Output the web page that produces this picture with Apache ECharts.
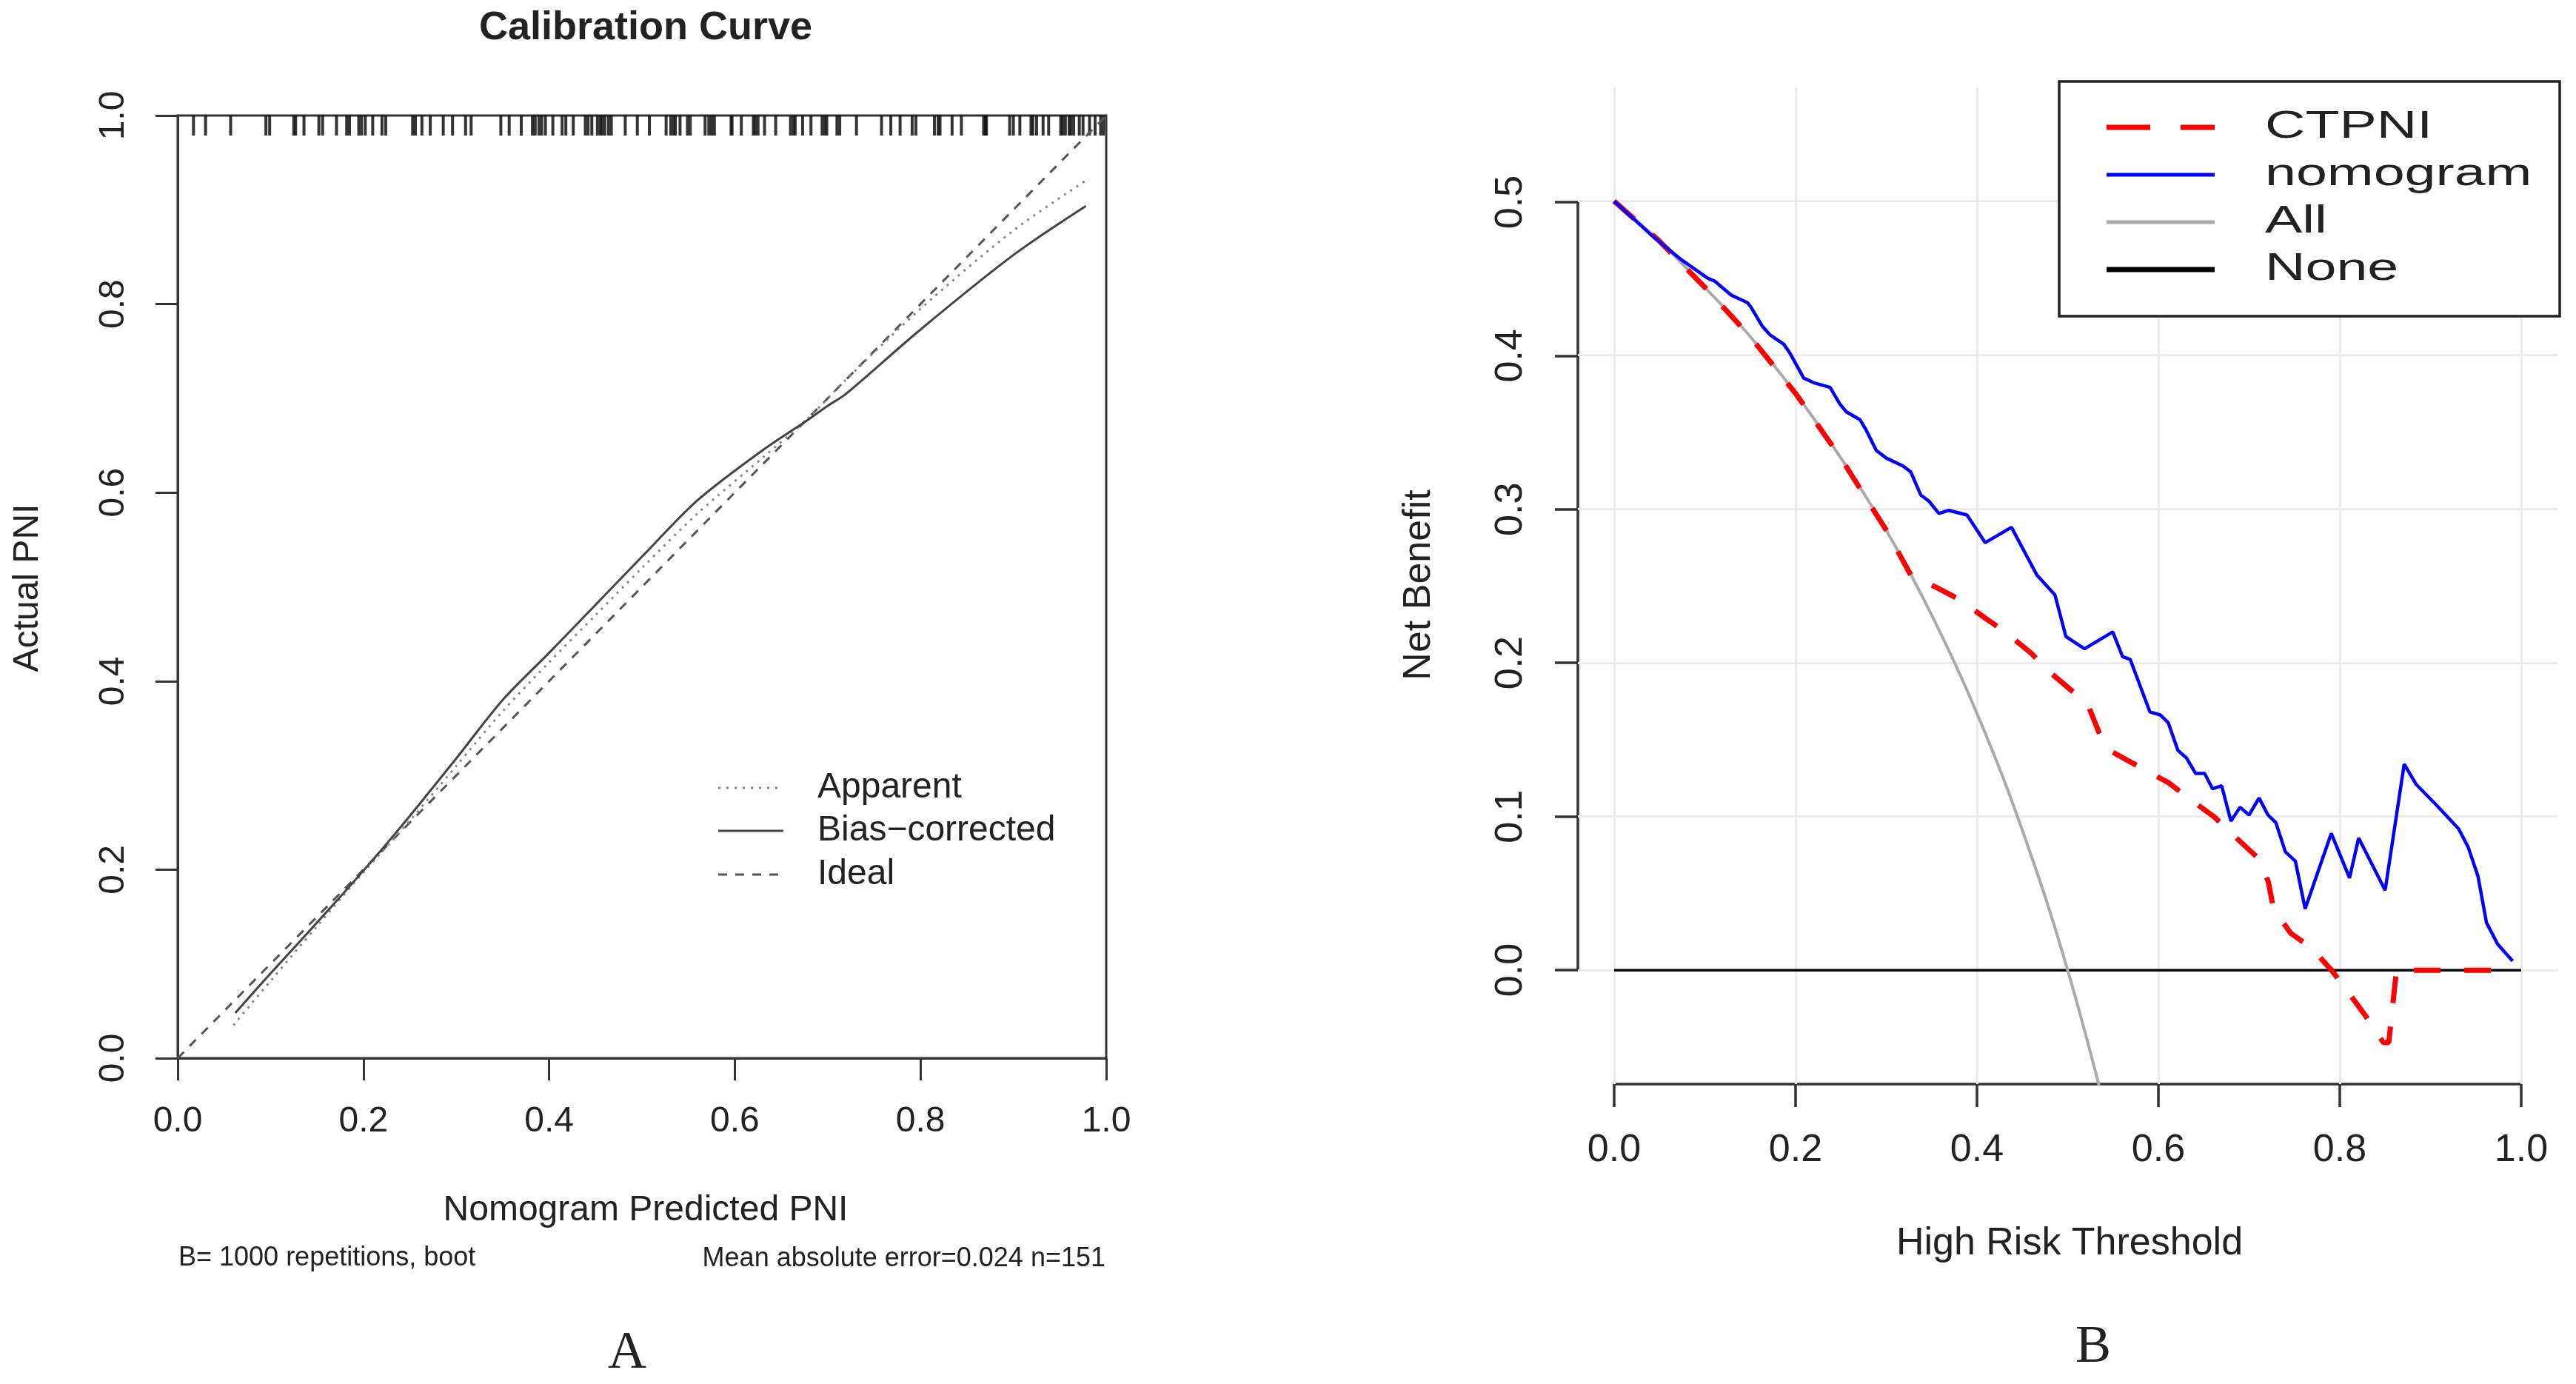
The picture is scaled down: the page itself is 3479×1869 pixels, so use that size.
<!DOCTYPE html>
<html style="height: 100%">
<head>
<meta charset="utf-8">
<script src="https://cdn.jsdelivr.net/npm/echarts@6/dist/echarts.min.js"></script>
</head>
<body style="height: 100%; margin: 0; background: #fff">
<div id="container" style="width: 3479px; height: 1869px;"></div>
<script type="text/javascript">
// ---- panel A : calibration curve ----
var rugX = [0.017, 0.030, 0.057, 0.095, 0.099, 0.125, 0.127, 0.136, 0.152, 0.156, 0.171, 0.182, 0.185,
  0.195, 0.198, 0.202, 0.210, 0.220, 0.224, 0.253, 0.256, 0.263, 0.272, 0.286, 0.296, 0.310, 0.316,
  0.348, 0.357, 0.370, 0.382, 0.385, 0.389, 0.392, 0.396, 0.404, 0.414, 0.418, 0.426, 0.439, 0.442,
  0.446, 0.452, 0.455, 0.457, 0.460, 0.464, 0.467, 0.482, 0.495, 0.508, 0.526, 0.531, 0.534, 0.536,
  0.541, 0.549, 0.552, 0.568, 0.572, 0.575, 0.578, 0.596, 0.597, 0.607, 0.620, 0.622, 0.625, 0.632,
  0.644, 0.660, 0.663, 0.665, 0.673, 0.682, 0.694, 0.697, 0.699, 0.710, 0.713, 0.731, 0.758, 0.768,
  0.778, 0.791, 0.795, 0.815, 0.819, 0.821, 0.834, 0.844, 0.868, 0.870, 0.871, 0.896, 0.900, 0.907,
  0.919, 0.921, 0.925, 0.932, 0.938, 0.951, 0.953, 0.956, 0.960, 0.962, 0.965, 0.971, 0.975, 0.982,
  0.988, 0.994, 0.997];
var idealPts = [[0, 0], [1, 1]];
var apparentPts = [[0.06, 0.035], [0.10, 0.082], [0.15, 0.140], [0.20, 0.197], [0.25, 0.252],
  [0.30, 0.310], [0.35, 0.368], [0.40, 0.420], [0.45, 0.470], [0.50, 0.520], [0.56, 0.578],
  [0.63, 0.637], [0.68, 0.680], [0.72, 0.720], [0.80, 0.795], [0.90, 0.878], [0.978, 0.931]];
var biasPts = [[0.062, 0.048], [0.10, 0.090], [0.128, 0.120], [0.184, 0.181], [0.24, 0.245],
  [0.30, 0.318], [0.35, 0.380], [0.40, 0.430], [0.45, 0.481], [0.50, 0.532], [0.56, 0.592],
  [0.63, 0.645], [0.68, 0.678], [0.70, 0.692], [0.72, 0.705], [0.80, 0.773], [0.90, 0.852],
  [0.978, 0.904]];

// ---- panel B : decision curve ----
var gridX = [0, 0.2, 0.4, 0.6, 0.8, 1.0];
var gridY = [0, 0.1, 0.2, 0.3, 0.4, 0.5];
var nonePts = [[0, 0], [1, 0]];
var allPts = [[0, 0.5], [0.05, 0.474], [0.10, 0.444], [0.15, 0.412], [0.20, 0.375], [0.25, 0.333],
  [0.30, 0.286], [0.35, 0.231], [0.40, 0.167], [0.45, 0.091], [0.50, 0.0], [0.55, -0.111]];
var ctpniPts = [[0, 0.5], [0.05, 0.474], [0.10, 0.444], [0.15, 0.412], [0.20, 0.375], [0.25, 0.333],
  [0.30, 0.286], [0.327, 0.257], [0.355, 0.249], [0.381, 0.241], [0.409, 0.229], [0.431, 0.220],
  [0.460, 0.206], [0.478, 0.195], [0.506, 0.181], [0.524, 0.170], [0.537, 0.151], [0.546, 0.143],
  [0.589, 0.129], [0.611, 0.122], [0.640, 0.109], [0.661, 0.100], [0.686, 0.086], [0.708, 0.074],
  [0.721, 0.058], [0.727, 0.040], [0.746, 0.024], [0.768, 0.015], [0.791, 0.0], [0.809, -0.014],
  [0.830, -0.031], [0.848, -0.047], [0.854, -0.047], [0.8625, 0], [0.99, 0]];
var nomoPts = [[0, 0.5], [0.041, 0.478], [0.074, 0.462], [0.103, 0.450], [0.111, 0.448], [0.129, 0.439],
  [0.147, 0.434], [0.151, 0.431], [0.163, 0.419], [0.172, 0.413], [0.187, 0.407], [0.194, 0.401],
  [0.209, 0.385], [0.220, 0.382], [0.238, 0.379], [0.249, 0.368], [0.256, 0.363], [0.271, 0.358],
  [0.278, 0.351], [0.289, 0.338], [0.300, 0.333], [0.318, 0.328], [0.327, 0.324], [0.338, 0.309],
  [0.347, 0.305], [0.358, 0.297], [0.369, 0.299], [0.389, 0.296], [0.409, 0.278], [0.438, 0.288],
  [0.466, 0.257], [0.486, 0.244], [0.498, 0.217], [0.5185, 0.209], [0.5497, 0.220], [0.5604, 0.204],
  [0.569, 0.202], [0.5906, 0.168], [0.602, 0.166], [0.6108, 0.161], [0.6215, 0.143], [0.631, 0.138],
  [0.641, 0.128], [0.651, 0.128], [0.6597, 0.118], [0.6697, 0.120], [0.680, 0.097], [0.690, 0.106],
  [0.700, 0.101], [0.711, 0.112], [0.7208, 0.101], [0.7295, 0.096], [0.740, 0.077], [0.751, 0.071],
  [0.7618, 0.040], [0.7906, 0.089], [0.8107, 0.060], [0.8208, 0.086], [0.850, 0.052], [0.871, 0.134],
  [0.884, 0.121], [0.9056, 0.108], [0.931, 0.092], [0.9416, 0.080], [0.9524, 0.061], [0.9617, 0.031],
  [0.974, 0.017], [0.9905, 0.006]];

var FONT = '"Liberation Sans", Arial, sans-serif';
var INK = '#222';
var AX = '#333';
function fmt1(v) { return v.toFixed(1); }

var chart = echarts.init(document.getElementById('container'), null, {renderer: 'canvas'});

function txt(x, y, text, size, opts) {
    opts = opts || {};
    return {
        type: 'text', x: x, y: y, rotation: opts.rot || 0, scaleX: opts.sx || 1, silent: true, z: 50,
        style: {
            text: text, fill: INK,
            font: (opts.bold ? 'bold ' : '') + size + 'px ' + (opts.family || FONT),
            textAlign: opts.align || 'center', textVerticalAlign: 'middle',
            align: opts.align || 'center', verticalAlign: 'middle'
        }
    };
}
function seg(x1, y1, x2, y2, color, w, dash) {
    return {
        type: 'line', silent: true, z: 50,
        shape: {x1: x1, y1: y1, x2: x2, y2: y2},
        style: {stroke: color, lineWidth: w, lineDash: dash || null}
    };
}

var graphics = [
    txt(872, 38, 'Calibration Curve', 54, {bold: true}),
    txt(38, 794, 'Actual PNI', 48, {rot: Math.PI / 2}),
    txt(872, 1635, 'Nomogram Predicted PNI', 48),
    txt(241, 1699, 'B= 1000 repetitions, boot', 36, {align: 'left'}),
    txt(1493, 1700, 'Mean absolute error=0.024 n=151', 36, {align: 'right'}),
    seg(970, 1064, 1058, 1064, '#888', 3, [3, 8]),
    seg(970, 1122, 1058, 1122, '#444', 3),
    seg(970, 1181, 1058, 1181, '#555', 3, [12, 11]),
    txt(1104, 1064, 'Apparent', 48, {align: 'left'}),
    txt(1104, 1122, 'Bias\u2212corrected', 48, {align: 'left'}),
    txt(1104, 1181, 'Ideal', 48, {align: 'left'}),
    txt(847, 1828, 'A', 72, {family: '"Liberation Serif", "Times New Roman", serif'}),
    txt(1917, 790, 'Net Benefit', 52, {rot: Math.PI / 2}),
    txt(2795, 1680, 'High Risk Threshold', 52),
    txt(2827, 1820, 'B', 72, {family: '"Liberation Serif", "Times New Roman", serif'}),
    {
        type: 'rect', silent: true, z: 49,
        shape: {x: 2781, y: 110, width: 676, height: 317},
        style: {fill: '#fff', stroke: '#222', lineWidth: 3.5}
    },
    seg(2845, 172, 2991, 172, '#ff0000', 7, [59, 41]),
    seg(2845, 236, 2991, 236, '#0000ff', 5),
    seg(2845, 300, 2991, 300, '#aaaaaa', 5),
    seg(2845, 364, 2991, 364, '#000000', 7),
    txt(3059, 172, 'CTPNI', 52, {align: 'left', sx: 1.45}),
    txt(3059, 236, 'nomogram', 52, {align: 'left', sx: 1.45}),
    txt(3059, 300, 'All', 52, {align: 'left', sx: 1.45}),
    txt(3059, 364, 'None', 52, {align: 'left', sx: 1.45})
];

var option = {
    animation: false,
    backgroundColor: '#fff',
    grid: [
        {left: 240, top: 156, width: 1254, height: 1273, show: true,
            borderColor: AX, borderWidth: 3, backgroundColor: 'transparent'},
        {left: 2131, top: 118, width: 1323, height: 1346},
        {left: 2180, top: 273, width: 1225, height: 1037}
    ],
    xAxis: [
        {
            gridIndex: 0, type: 'value', min: 0, max: 1, interval: 0.2,
            axisLine: {show: true, onZero: false, lineStyle: {color: AX, width: 3}},
            axisTick: {show: true, length: 30, lineStyle: {color: AX, width: 3}},
            axisLabel: {formatter: fmt1, fontSize: 48, fontFamily: FONT, color: INK, margin: 62},
            splitLine: {show: false}
        },
        {gridIndex: 1, type: 'value', min: -0.04, max: 1.04, show: false},
        {
            gridIndex: 2, type: 'value', min: 0, max: 1, interval: 0.2, offset: 154,
            axisLine: {show: true, onZero: false, lineStyle: {color: AX, width: 3.5}},
            axisTick: {show: true, length: 31, lineStyle: {color: AX, width: 3.5}},
            axisLabel: {formatter: fmt1, fontSize: 52, fontFamily: FONT, color: INK, margin: 64},
            splitLine: {show: false}
        }
    ],
    yAxis: [
        {
            gridIndex: 0, type: 'value', min: 0, max: 1, interval: 0.2,
            axisLine: {show: true, onZero: false, lineStyle: {color: AX, width: 3}},
            axisTick: {show: true, length: 30, lineStyle: {color: AX, width: 3}},
            axisLabel: {formatter: fmt1, fontSize: 48, fontFamily: FONT, color: INK, margin: 62, rotate: 90},
            splitLine: {show: false}
        },
        {gridIndex: 1, type: 'value', min: -0.074, max: 0.574, show: false},
        {
            gridIndex: 2, type: 'value', min: 0, max: 0.5, interval: 0.1, offset: 49,
            axisLine: {show: true, onZero: false, lineStyle: {color: AX, width: 3.5}},
            axisTick: {show: true, length: 31, lineStyle: {color: AX, width: 3.5}},
            axisLabel: {formatter: fmt1, fontSize: 52, fontFamily: FONT, color: INK, margin: 64, rotate: 90},
            splitLine: {show: false}
        }
    ],
    series: [
        {
            name: 'rug', type: 'scatter', xAxisIndex: 0, yAxisIndex: 0, silent: true,
            data: rugX.map(function (v) { return [v, 1]; }),
            symbol: 'rect', symbolSize: [4, 27], symbolOffset: [0, 13.5],
            itemStyle: {color: '#111', opacity: 0.85}, z: 2
        },
        {
            name: 'Ideal', type: 'line', xAxisIndex: 0, yAxisIndex: 0, data: idealPts,
            showSymbol: false, silent: true, lineStyle: {color: '#555', width: 3, type: [12, 11]}, z: 3
        },
        {
            name: 'Apparent', type: 'line', xAxisIndex: 0, yAxisIndex: 0, data: apparentPts, smooth: 0.3,
            showSymbol: false, silent: true, lineStyle: {color: '#888', width: 3, type: [3, 7]}, z: 4
        },
        {
            name: 'Bias-corrected', type: 'line', xAxisIndex: 0, yAxisIndex: 0, data: biasPts, smooth: 0.3,
            showSymbol: false, silent: true, lineStyle: {color: '#444', width: 3}, z: 5
        },
        {
            name: 'grid', type: 'line', xAxisIndex: 1, yAxisIndex: 1, data: [], z: 1, silent: true,
            markLine: {
                silent: true, z: 1, symbol: ['none', 'none'], label: {show: false}, animation: false,
                lineStyle: {color: '#ebebeb', width: 3, type: 'solid'},
                data: gridX.map(function (v) { return {xAxis: v}; })
                    .concat(gridY.map(function (v) { return {yAxis: v}; }))
            }
        },
        {
            name: 'None', type: 'line', xAxisIndex: 1, yAxisIndex: 1, data: nonePts, clip: true,
            showSymbol: false, silent: true, lineStyle: {color: '#000', width: 3.5}, z: 2
        },
        {
            name: 'All', type: 'line', xAxisIndex: 1, yAxisIndex: 1, data: allPts, smooth: 0.4, clip: true,
            showSymbol: false, silent: true, lineStyle: {color: '#aaaaaa', width: 4}, z: 3
        },
        {
            name: 'CTPNI', type: 'line', xAxisIndex: 1, yAxisIndex: 1, data: ctpniPts, clip: true,
            showSymbol: false, silent: true, lineStyle: {color: '#ff0000', width: 7, type: [36, 32]}, z: 4
        },
        {
            name: 'nomogram', type: 'line', xAxisIndex: 1, yAxisIndex: 1, data: nomoPts, clip: true,
            showSymbol: false, silent: true, lineStyle: {color: '#0000ff', width: 4.5}, z: 5
        },
        {
            name: 'axes', type: 'line', xAxisIndex: 2, yAxisIndex: 2, data: [], silent: true
        }
    ],
    graphic: graphics
};

chart.setOption(option, true);
</script>
</body>
</html>
